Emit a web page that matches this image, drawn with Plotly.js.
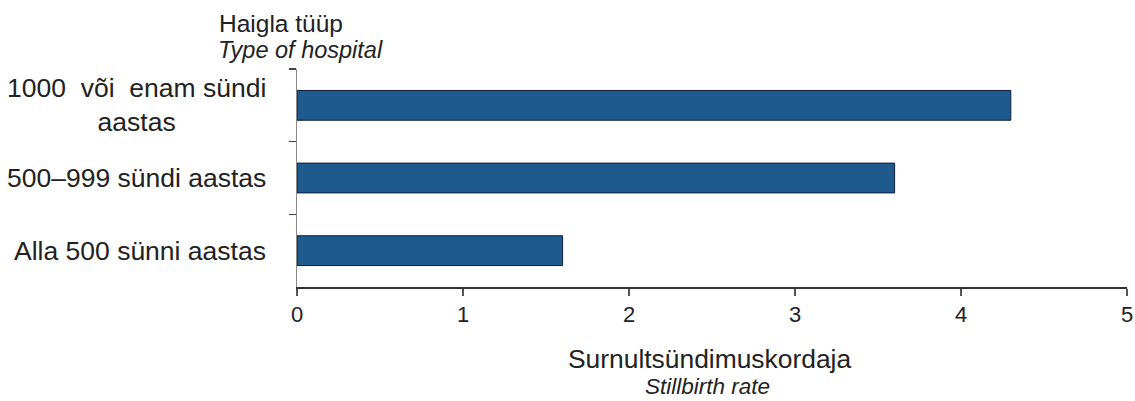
<!DOCTYPE html>
<html>
<head>
<meta charset="utf-8">
<script src="https://cdn.plot.ly/plotly-3.0.1.min.js"></script>
<style>html,body{margin:0;padding:0;background:#fff;}#chart{width:1135px;height:401px;}</style>
</head>
<body>
<div id="chart"></div>
<script>
// Data
const categories = ["1000\u00a0 või\u00a0 enam sündi<br>aastas", "500–999 sündi aastas", "Alla 500 sünni aastas"];
const categoryKeys = ["c1", "c2", "c3"];
const values = [4.3, 3.6, 1.6];
const xTickVals = [0, 1, 2, 3, 4, 5];
const xTickText = ["0", "1", "2", "3", "4", "5"];
const yTitle = ["Haigla tüüp", "Type of hospital"];
const xTitle = ["Surnultsündimuskordaja", "Stillbirth rate"];

const FONT = "Liberation Sans, Arial, sans-serif";
const TXT = "#222222";

const trace = {
  type: "bar",
  orientation: "h",
  x: values,
  y: categoryKeys,
  marker: { color: "#1F5A8E", line: { color: "#0B1E3A", width: 1 } },
  width: 0.41,
  hoverinfo: "x"
};

const annotations = [];
categories.forEach((c, i) => {
  annotations.push({
    xref: "paper", yref: "y", x: 0, y: categoryKeys[i],
    xanchor: "right", yanchor: "middle", xshift: -29,
    text: c, showarrow: false, align: "center",
    font: { family: FONT, size: 26.5, color: TXT }
  });
});
// y title (top left)
annotations.push({ xref: "paper", yref: "paper", x: (281 - 297) / 830, y: 1, yshift: 46,
  xanchor: "center", yanchor: "middle", text: yTitle[0], showarrow: false,
  font: { family: FONT, size: 24.5, color: TXT } });
annotations.push({ xref: "paper", yref: "paper", x: (300 - 297) / 830, y: 1, yshift: 19,
  xanchor: "center", yanchor: "middle", text: "<i>" + yTitle[1] + "</i>", showarrow: false,
  font: { family: FONT, size: 23.5, color: TXT } });
// x title (bottom)
annotations.push({ xref: "paper", yref: "paper", x: (709 - 297) / 830, y: 0, yshift: -72,
  xanchor: "center", yanchor: "middle", text: xTitle[0], showarrow: false,
  font: { family: FONT, size: 26.4, color: TXT } });
annotations.push({ xref: "paper", yref: "paper", x: (707 - 297) / 830, y: 0, yshift: -114,
  xanchor: "center", yanchor: "bottom", text: "<i>" + xTitle[1] + "</i>", showarrow: false,
  font: { family: FONT, size: 22.5, color: TXT } });

const layout = {
  width: 1135, height: 401,
  margin: { l: 297, r: 8, t: 69, b: 114, pad: 0 },
  paper_bgcolor: "#ffffff", plot_bgcolor: "#ffffff",
  showlegend: false,
  xaxis: {
    range: [0, 5], tickvals: xTickVals, ticktext: xTickText,
    showgrid: false, zeroline: false,
    showline: true, linecolor: "#333333", linewidth: 1.5,
    ticks: "outside", ticklen: 7, tickcolor: "#555555", tickwidth: 1.5,
    tickfont: { family: FONT, size: 22, color: TXT }
  },
  yaxis: {
    type: "category", categoryorder: "array", categoryarray: categoryKeys,
    autorange: "reversed",
    showgrid: false, zeroline: false,
    showline: true, linecolor: "#8a8a8a", linewidth: 1.5,
    ticks: "outside", ticklen: 7, tickcolor: "#444444", tickwidth: 1.2,
    tickson: "boundaries", showticklabels: false
  },
  annotations: annotations
};

Plotly.newPlot("chart", [trace], layout, { staticPlot: true, displayModeBar: false });
</script>
</body>
</html>
